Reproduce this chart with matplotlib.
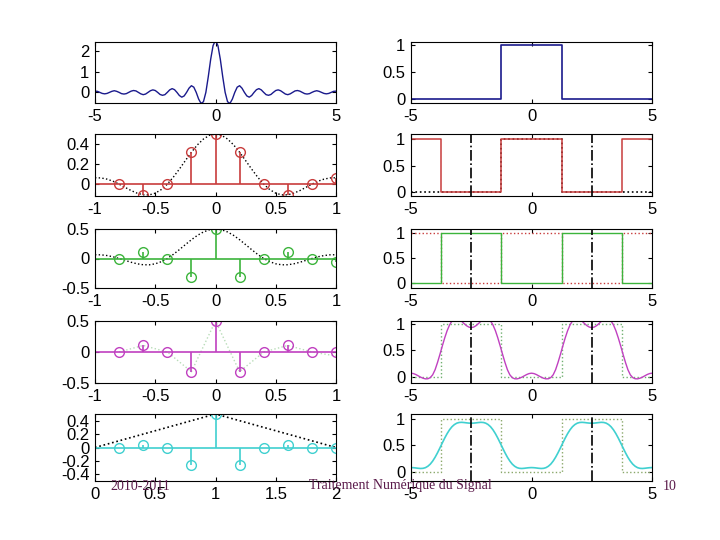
import numpy as np
import matplotlib.pyplot as plt
from matplotlib.ticker import FormatStrFormatter

plt.rcParams['font.family'] = ['Liberation Sans', 'DejaVu Sans']
plt.rcParams['font.size'] = 12

# ---------------------------------------------------------------------------
# Valeurs
# ---------------------------------------------------------------------------

# Spectre du rectangle, f >= 0 par pas de 0.1 (courbe symetrique)
spectre_pos = [2.50, 2.25, 1.59, 0.75, 0.00, -0.45, -0.53, -0.32, 0.00, 0.25,
               0.32, 0.20, 0.00, -0.17, -0.23, -0.15, 0.00, 0.13, 0.18, 0.12,
               0.00, -0.11, -0.14, -0.10, 0.00, 0.09, 0.12, 0.08, 0.00, -0.08,
               -0.11, -0.07, 0.00, 0.07, 0.09, 0.06, 0.00, -0.06, -0.08, -0.06,
               0.00, 0.05, 0.08, 0.05, 0.00, -0.05, -0.07, -0.05, 0.00, 0.05,
               0.06]

# Rectangle et signaux carres (points de rupture)
rect_t = [-5, -1.25, -1.25, 1.25, 1.25, 5]
rect_y = [0, 0, 1, 1, 0, 0]
carre_t = [-5, -3.75, -3.75, -1.25, -1.25, 1.25, 1.25, 3.75, 3.75, 5]
carre_rouge = [1, 1, 0, 0, 1, 1, 0, 0, 1, 1]
carre_vert = [0, 0, 1, 1, 0, 0, 1, 1, 0, 0]

# Coefficients de Fourier (n = -4 ... 5, abscisse n*0.2)
n_coef = [-4, -3, -2, -1, 0, 1, 2, 3, 4, 5]
c_rouge = [0.0, -0.106, 0.0, 0.318, 0.5, 0.318, 0.0, -0.106, 0.0, 0.064]
c_vert = [0.0, 0.106, 0.0, -0.318, 0.5, -0.318, 0.0, 0.106, 0.0, -0.064]
c_magenta = [0.0, 0.106, 0.0, -0.318, 0.5, -0.318, 0.0, 0.106, 0.0, 0.0]
c_cyan = [0.0, 0.042, 0.0, -0.255, 0.5, -0.255, 0.0, 0.042, 0.0, 0.0]

# Enveloppe en pointille, x >= 0 par pas de 0.05 (symetrique)
enveloppe_pos = [0.500, 0.487, 0.450, 0.392, 0.318, 0.235, 0.150, 0.070, 0.0,
                 -0.054, -0.090, -0.107, -0.106, -0.090, -0.064, -0.032, 0.0,
                 0.029, 0.050, 0.062, 0.064]

# Fenetre triangulaire (ligne 5)
tri_x = [0, 1, 2]
tri_y = [0, 0.5, 0]

# Reconstructions, t = 0 ... 5 par pas de 0.1 (symetriques en t)
recon_magenta = [0.065, 0.058, 0.040, 0.015, -0.010, -0.030, -0.042, -0.040,
                 -0.018, 0.035, 0.131, 0.267, 0.420, 0.580, 0.733, 0.869, 0.976,
                 1.051, 1.092, 1.099, 1.081, 1.045, 1.002, 0.962, 0.935, 0.925,
                 0.935, 0.962, 1.002, 1.045, 1.081, 1.099, 1.092, 1.051, 0.976,
                 0.869, 0.733, 0.580, 0.420, 0.267, 0.131, 0.035, -0.018, -0.040,
                 -0.042, -0.030, -0.010, 0.015, 0.040, 0.058, 0.065]
recon_cyan = [0.076, 0.074, 0.069, 0.063, 0.059, 0.062, 0.075, 0.102, 0.143,
              0.201, 0.274, 0.359, 0.452, 0.548, 0.641, 0.726, 0.799, 0.857,
              0.898, 0.925, 0.938, 0.941, 0.937, 0.931, 0.926, 0.924, 0.926,
              0.931, 0.937, 0.941, 0.938, 0.925, 0.898, 0.857, 0.799, 0.726,
              0.641, 0.548, 0.452, 0.359, 0.274, 0.201, 0.143, 0.102, 0.075,
              0.062, 0.059, 0.063, 0.069, 0.074, 0.076]

# ---------------------------------------------------------------------------

t = np.linspace(-5, 5, 101)
spectre = spectre_pos[:0:-1] + spectre_pos
magenta = recon_magenta[:0:-1] + recon_magenta
cyan = recon_cyan[:0:-1] + recon_cyan
x_env = np.linspace(-1, 1, 41)
enveloppe = enveloppe_pos[:0:-1] + enveloppe_pos
x_coef = np.array(n_coef) * 0.2

BLEU = '#1a1a8c'
ROUGE = '#c83c3c'
VERT = '#3cb43c'
MAGENTA = '#c040c0'
CYAN = '#40d0d0'

fig = plt.figure(figsize=(7.2, 5.4), dpi=100)

lignes = [(42, 103), (134, 196), (229, 288), (321, 383), (414, 481)]


def axe(col, ligne):
    haut, bas = lignes[ligne]
    x0 = 95 if col == 0 else 411
    ax = fig.add_axes([x0 / 720, 1 - bas / 540, 241 / 720, (bas - haut) / 540])
    ax.tick_params(direction='in', top=True, right=True, length=3, pad=4)
    ax.xaxis.set_major_formatter(FormatStrFormatter('%g'))
    ax.yaxis.set_major_formatter(FormatStrFormatter('%g'))
    return ax


def tiges(ax, x, y, couleur):
    ax.axhline(0, color=couleur, lw=1.2)
    ml, sl, bl = ax.stem(x, y, linefmt='-', markerfmt='o', basefmt=' ')
    plt.setp(sl, color=couleur, lw=1.2)
    plt.setp(ml, color=couleur, markerfacecolor='none', markersize=7, mew=1)


def verticales(ax):
    ax.axvline(-2.5, color='k', ls='-.', lw=1.2)
    ax.axvline(2.5, color='k', ls='-.', lw=1.2)


# Ligne 1
ax = axe(0, 0)
ax.plot(t, spectre, color=BLEU, lw=1)
ax.set_xlim(-5, 5)
ax.set_ylim(-0.51, 2.42)
ax.set_xticks([-5, 0, 5])
ax.set_yticks([0, 1, 2])

ax = axe(1, 0)
ax.plot(rect_t, rect_y, color=BLEU, lw=1.2)
ax.set_xlim(-5, 5)
ax.set_ylim(-0.08, 1.05)
ax.set_xticks([-5, 0, 5])
ax.set_yticks([0, 0.5, 1])

# Ligne 2
ax = axe(0, 1)
ax.plot(x_env, enveloppe, 'k:', lw=1)
tiges(ax, x_coef, c_rouge, ROUGE)
ax.set_xlim(-1, 1)
ax.set_ylim(-0.118, 0.5)
ax.set_xticks([-1, -0.5, 0, 0.5, 1])
ax.set_yticks([0, 0.2, 0.4])

ax = axe(1, 1)
ax.plot(rect_t, rect_y, 'k:', lw=1.2, zorder=1)
ax.plot(carre_t, carre_rouge, color=ROUGE, lw=1.1, zorder=2)
verticales(ax)
ax.set_xlim(-5, 5)
ax.set_ylim(-0.08, 1.1)
ax.set_xticks([-5, 0, 5])
ax.set_yticks([0, 0.5, 1])

# Ligne 3
ax = axe(0, 2)
ax.plot(x_env, enveloppe, 'k:', lw=1)
tiges(ax, x_coef, c_vert, VERT)
ax.set_xlim(-1, 1)
ax.set_ylim(-0.5, 0.5)
ax.set_xticks([-1, -0.5, 0, 0.5, 1])
ax.set_yticks([-0.5, 0, 0.5])

ax = axe(1, 2)
ax.plot(carre_t, carre_rouge, ':', color=ROUGE, lw=1)
ax.plot(carre_t, carre_vert, color=VERT, lw=1)
verticales(ax)
ax.set_xlim(-5, 5)
ax.set_ylim(-0.09, 1.07)
ax.set_xticks([-5, 0, 5])
ax.set_yticks([0, 0.5, 1])

# Ligne 4
ax = axe(0, 3)
ax.plot(x_coef, c_vert, ':', color='#b8dcb8', lw=1)
tiges(ax, x_coef, c_magenta, MAGENTA)
ax.set_xlim(-1, 1)
ax.set_ylim(-0.5, 0.5)
ax.set_xticks([-1, -0.5, 0, 0.5, 1])
ax.set_yticks([-0.5, 0, 0.5])

ax = axe(1, 3)
ax.plot(carre_t, carre_vert, ':', color='#70b070', lw=1)
ax.plot(t, magenta, color=MAGENTA, lw=1)
verticales(ax)
ax.set_xlim(-5, 5)
ax.set_ylim(-0.12, 1.05)
ax.set_xticks([-5, 0, 5])
ax.set_yticks([0, 0.5, 1])

# Ligne 5
ax = axe(0, 4)
ax.plot(tri_x, tri_y, 'k:', lw=1.2)
tiges(ax, x_coef + 1, c_cyan, CYAN)
ax.set_xlim(0, 2)
ax.set_ylim(-0.5, 0.5)
ax.set_xticks([0, 0.5, 1, 1.5, 2])
ax.set_yticks([-0.4, -0.2, 0, 0.2, 0.4])

ax = axe(1, 4)
ax.plot(carre_t, carre_vert, ':', color='#8aa86a', lw=1)
ax.plot(t, cyan, color=CYAN, lw=1.2)
verticales(ax)
ax.set_xlim(-5, 5)
ax.set_ylim(-0.18, 1.1)
ax.set_xticks([-5, 0, 5])
ax.set_yticks([0, 0.5, 1])

# Pied de page
pied = dict(family=['Liberation Serif', 'DejaVu Serif'], fontsize=10,
            color='#5a1a4a', va='center')
fig.text(110 / 720, 1 - 486 / 540, '2010-2011', ha='left', **pied)
fig.text(400 / 720, 1 - 486 / 540, 'Traitement Numérique du Signal',
         ha='center', **pied)
fig.text(670 / 720, 1 - 486 / 540, '10', ha='center', **pied)

fig.savefig('out.png', dpi=100)
